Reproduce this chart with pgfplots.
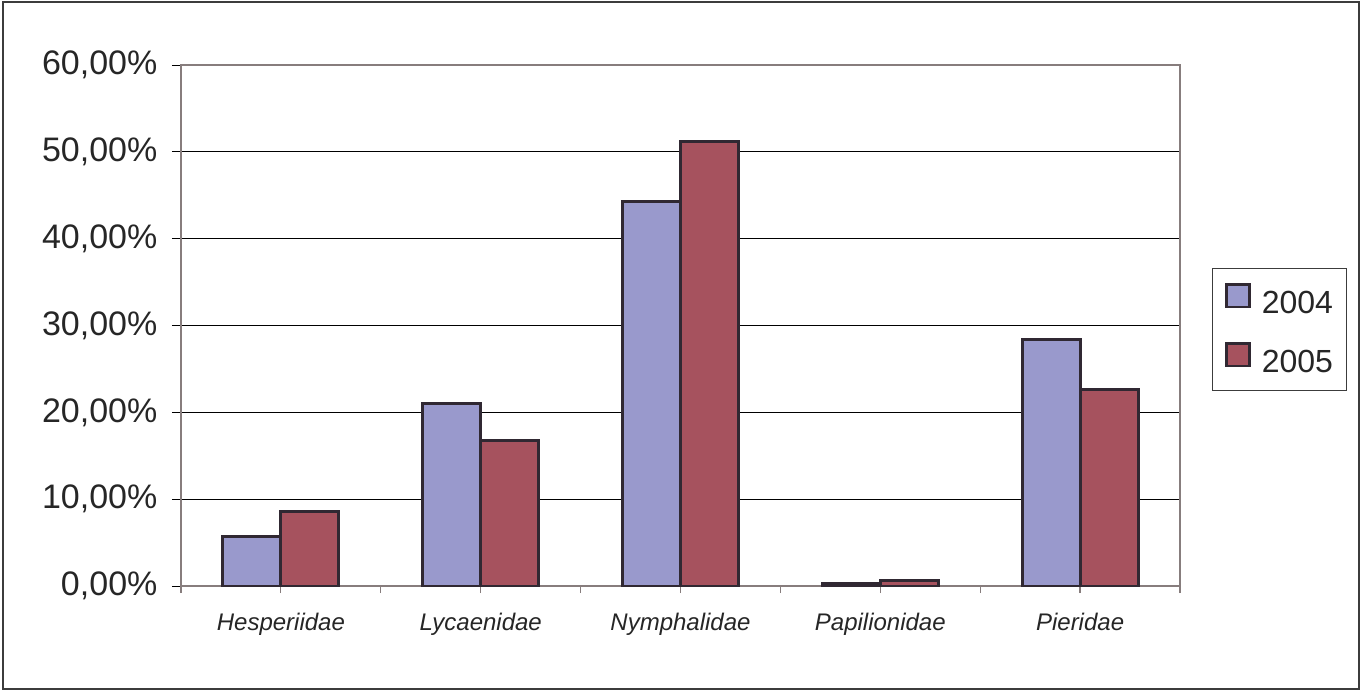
\documentclass[border=0pt]{standalone}
\usepackage{pgfplots}
\pgfplotsset{compat=1.18}
\usepackage{fontspec}
\setmainfont{Liberation Sans}
\definecolor{c2004}{RGB}{153,153,204}
\definecolor{c2005}{RGB}{166,82,94}
\definecolor{barline}{RGB}{48,40,50}
\definecolor{spine}{RGB}{135,125,125}
\definecolor{frame}{RGB}{60,60,60}
\begin{document}
\begin{tikzpicture}
\useasboundingbox (0,0) rectangle (681pt,346pt);
\draw[frame, line width=0.75pt] (1.5pt,1.5pt) rectangle (679.5pt,345pt);
\begin{axis}[
  at={(90.5pt,53pt)}, anchor=south west,
  scale only axis, width=499.5pt, height=260.5pt,
  xmin=-0.5, xmax=4.5, ymin=0, ymax=60,
  ybar=0pt, bar width=0.29,
  axis line style={spine, line width=1.1pt},
  tick align=outside,
  ytick pos=left, xtick pos=bottom,
  ytick={0,10,20,30,40,50,60},
  yticklabels={{0,00\%},{10,00\%},{20,00\%},{30,00\%},{40,00\%},{50,00\%},{60,00\%}},
  yticklabel style={font=\fontsize{17}{20}\selectfont, color=black!85, xshift=-4pt},
  y tick style={black, line width=0.5pt, /pgfplots/major tick length=4.5pt},
  ymajorgrids, grid style={black, line width=0.5pt},
  xtick={-0.5,0.5,1.5,2.5,3.5,4.5}, xticklabels={},
  x tick style={spine, line width=0.6pt, /pgfplots/major tick length=3.5pt},
  extra x ticks={0,1,2,3,4},
  extra x tick labels={Hesperiidae,Lycaenidae,Nymphalidae,Papilionidae,Pieridae},
  extra x tick style={/pgfplots/major tick length=0pt, grid=none,
     xticklabel style={font=\fontsize{12}{14}\selectfont\itshape, color=black!85, yshift=-10pt}},
  legend style={at={(1.032,0.6104)}, anchor=north west, draw=frame, line width=0.5pt,
     font=\fontsize{16}{19}\selectfont, inner xsep=6.5pt, inner ysep=7.5pt,
     row sep=13pt, column sep=0pt, nodes={inner sep=0pt, text=black!85}},
  legend image code/.code={\draw[#1, line width=1.2pt] (0pt,-1.7pt) rectangle (11.5pt,9.5pt);},
  legend cell align=left,
]
\addplot[fill=c2004, draw=barline, line width=1.5pt] coordinates {(0,5.68) (1,21.0) (2,44.27) (3,0.25) (4,28.43)};
\addplot[fill=c2005, draw=barline, line width=1.5pt] coordinates {(0,8.55) (1,16.75) (2,51.15) (3,0.65) (4,22.66)};
\legend{\hspace{5.5pt}2004,\hspace{5.5pt}2005}
\end{axis}
\end{tikzpicture}
\end{document}
